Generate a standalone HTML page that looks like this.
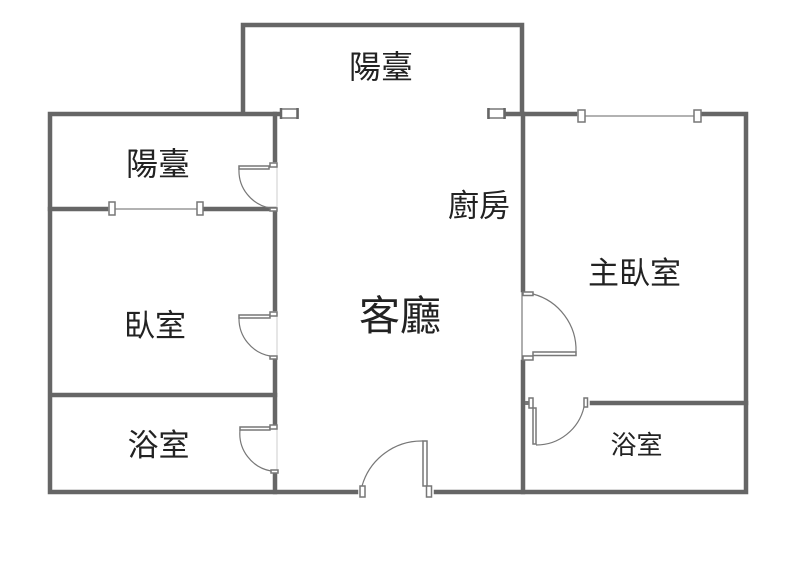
<!DOCTYPE html>
<html><head><meta charset="utf-8"><style>
html,body{margin:0;padding:0;background:#fff}
svg{display:block}
text{font-family:"Liberation Sans","Noto Sans CJK TC",sans-serif;fill:#222;text-anchor:middle;dominant-baseline:central}
.w{stroke:#666;stroke-width:4.5;fill:none;stroke-linecap:square}
.o{fill:#fff;stroke:#777;stroke-width:1.5}
.a{fill:none;stroke:#777;stroke-width:1.2}
.t{stroke:#ccc;stroke-width:1;fill:none}
.g{stroke:#999;stroke-width:1.5;fill:none}
.d{fill:none;stroke:#666;stroke-width:2.5}
</style></head><body>
<svg width="800" height="577" viewBox="0 0 800 577" xmlns="http://www.w3.org/2000/svg">
<rect width="800" height="577" fill="#fff"/>
<g class="w">
<path d="M243 112V25H522V112"/>
<path d="M278 114H50V492H356"/>
<path d="M436 492H746V114H703"/>
<path d="M575 114H506"/>
<path d="M523 114V290M523 362V492"/>
<path d="M275 114V160M275 210V309M275 358V424M275 473V492"/>
<path d="M50 209H106M205 209H275"/>
<path d="M52 395H275"/>
<path d="M592 403H746"/>
</g>
<g>
<rect class="o" x="281" y="109" width="17" height="9"/>
<path class="d" d="M281 108V119M297.500 108V119"/>
<rect class="o" x="488" y="109" width="17" height="9"/>
<path class="d" d="M488.500 108V119M504.500 108V119"/>
<path class="g" d="M585 116H694M115 209H197"/>
<rect class="o" x="578" y="110" width="7" height="12"/>
<rect class="o" x="694" y="110" width="7" height="12"/>
<rect class="o" x="109" y="202" width="6" height="13"/>
<rect class="o" x="197" y="202" width="6" height="13"/>
</g>
<!-- left doors -->
<g>
<path class="t" d="M277 165V208M277 314V356M277 428V470"/>
<rect class="o" x="239" y="166" width="30" height="3"/>
<rect class="o" x="270" y="163" width="7" height="4"/>
<rect class="o" x="270" y="208" width="7" height="3"/>
<path class="a" d="M239 169A38 38 0 0 0 270 208"/>
<rect class="o" x="239" y="315" width="31" height="3"/>
<rect class="o" x="270" y="312" width="7" height="4"/>
<rect class="o" x="270" y="356" width="7" height="3"/>
<path class="a" d="M239 318A38 38 0 0 0 270 356"/>
<rect class="o" x="240" y="427" width="30" height="3"/>
<rect class="o" x="270" y="425" width="7" height="4"/>
<rect class="o" x="271" y="470" width="7" height="3"/>
<path class="a" d="M240 430A38 38 0 0 0 271 471"/>
</g>
<!-- right door -->
<g>
<path class="a" d="M522 292V360"/>
<rect class="o" x="523" y="292" width="10" height="3.500"/>
<rect class="o" x="523" y="356" width="10" height="4"/>
<rect class="o" x="533" y="352" width="43" height="3.500"/>
<path class="a" d="M533 294A58 58 0 0 1 576 352"/>
</g>
<!-- bathroom door -->
<g>
<rect x="525" y="401" width="4" height="4" fill="#777"/>
<rect class="o" x="529" y="398" width="4" height="10"/>
<rect class="o" x="533" y="408" width="3" height="36"/>
<rect class="o" x="584" y="398" width="3.500" height="9"/>
<path class="a" d="M536 445A49 49 0 0 0 584 407"/>
</g>
<!-- entry door -->
<g>
<rect class="o" x="360" y="486" width="5" height="11"/>
<rect class="o" x="423" y="441" width="4" height="45"/>
<rect class="o" x="426.500" y="486" width="5" height="11"/>
<path class="a" d="M362 486A62 62 0 0 1 423 441"/>
</g>
<text x="381" y="67" font-size="32">陽臺</text>
<text x="158" y="164" font-size="32">陽臺</text>
<text x="479" y="206" font-size="31">廚房</text>
<text x="634.500" y="273.500" font-size="31">主臥室</text>
<text x="400" y="316" font-size="41">客廳</text>
<text x="155" y="326" font-size="31">臥室</text>
<text x="158.500" y="445.500" font-size="31">浴室</text>
<text x="636.500" y="445" font-size="26">浴室</text>
</svg>
</body></html>
